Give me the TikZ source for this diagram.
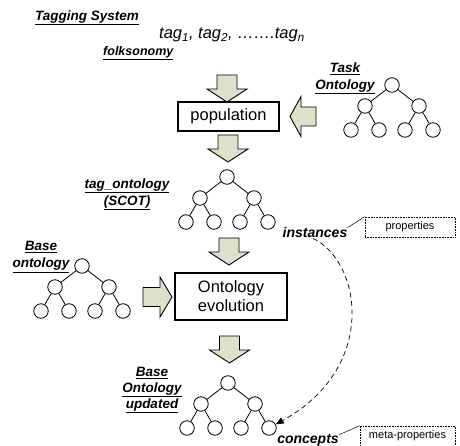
\documentclass[tikz,border=0pt]{standalone}
\usepackage{fontspec}
\setmainfont{Liberation Sans}
\usetikzlibrary{arrows.meta}
\definecolor{arrowfill}{RGB}{221,225,204}
\begin{document}
\begin{tikzpicture}[x=1pt,y=-1pt,
  lbl/.style={font=\fontsize{13.5}{17}\selectfont\bfseries\itshape, align=center, inner sep=0pt},
  leaf/.style={circle, draw=black, line width=0.8pt, minimum size=14.5pt, inner sep=0pt, fill=white},
  edge/.style={draw=black, line width=0.8pt},
  procbox/.style={draw=black, line width=2.4pt, align=center, inner sep=0pt,
    font=\fontsize{16.5}{19}\selectfont},
  blk/.style={draw=black, fill=arrowfill, line width=0.9pt, line join=miter},
  notebox/.style={draw=black, densely dotted, line width=0.6pt, inner sep=0pt,
    font=\fontsize{11}{13}\selectfont},
  role/.style={font=\fontsize{14}{16}\selectfont\bfseries\itshape, inner sep=1pt},
  pics/onto/.style={code={
    \node[leaf] (-r)  at (0,0)    {};
    \node[leaf] (-a)  at (-27,21) {};
    \node[leaf] (-b)  at (27,21)  {};
    \node[leaf] (-a1) at (-41,45) {};
    \node[leaf] (-a2) at (-13,45) {};
    \node[leaf] (-b1) at (13,45)  {};
    \node[leaf] (-b2) at (41,45)  {};
    \draw[edge] (-r) -- (-a);
    \draw[edge] (-r) -- (-b);
    \draw[edge] (-a) -- (-a1);
    \draw[edge] (-a) -- (-a2);
    \draw[edge] (-b) -- (-b1);
    \draw[edge] (-b) -- (-b2);
  }},
  pics/downblk/.style={code={
    \draw[blk] (-10,0) -- (10,0) -- (10,14) -- (20,14) -- (0,27)
      -- (-20,14) -- (-10,14) -- cycle;
  }},
  pics/leftblk/.style={code={
    \draw[blk] (0,0) -- (11,-20) -- (11,-9.5) -- (26,-9.5) -- (26,9.5)
      -- (11,9.5) -- (11,20) -- cycle;
  }},
  pics/rightblk/.style={code={
    \draw[blk] (0,0) -- (-12,-20) -- (-12,-9.5) -- (-29,-9.5) -- (-29,9.5)
      -- (-12,9.5) -- (-12,20) -- cycle;
  }}
]
\useasboundingbox (0,0) rectangle (460,446);

% header: tagging system and its tags
\node[lbl, anchor=west] (tsys) at (35,18) {\underline{Tagging System}};
\node[anchor=west, inner sep=0pt, font=\fontsize{16.5}{18}\selectfont\itshape] (tags) at (159,35)
  {tag\textsubscript{1}, tag\textsubscript{2}, …….tag\textsubscript{n}};
\node[lbl, anchor=west, font=\fontsize{12.5}{14}\selectfont\bfseries\itshape] (folk) at (103,53) {\underline{folksonomy}};

% population step
\pic at (227,75) {downblk};
\node[procbox, minimum width=101pt, minimum height=29pt] (pop) at (228.5,116.5) {population};
\pic at (290,116.5) {leftblk};

% task ontology
\node[lbl] (task) at (345,78.5) {\underline{Task}\\\underline{Ontology}};
\pic (tk) at (392,85) {onto};

% tag ontology produced by population
\pic at (228,135) {downblk};
\node[lbl] (tagl) at (127,194.5) {\underline{tag\_ontology}\\\underline{(SCOT)}};
\pic (sc) at (227,177) {onto};

% ontology evolution step
\pic at (229,238) {downblk};
\node[procbox, minimum width=112pt, minimum height=47pt] (evo) at (231,296.5) {Ontology\\evolution};

% base ontology
\node[lbl] (basel) at (41,257) {\underline{Base}\\\underline{ontology}};
\pic (bo) at (82,266) {onto};
\pic at (172,297) {rightblk};

% updated base ontology
\pic at (229.5,336) {downblk};
\node[lbl, font=\fontsize{13.5}{16}\selectfont\bfseries\itshape] (updl) at (152,390) {\underline{Base}\\\underline{Ontology}\\\underline{updated}};
\pic (up) at (228,383) {onto};

% instances become concepts
\node[role] (inst) at (315,232) {instances};
\node[notebox, minimum width=90pt, minimum height=20pt] (props) at (410,227) {properties};
\draw[line width=0.5pt] ([xshift=-1pt,yshift=-2pt]inst.north east) -- (props.north west);

\node[role] (conc) at (308,440) {concepts};
\node[notebox, minimum width=95pt, minimum height=20pt] (meta) at (407.5,436) {meta-properties};
\draw[line width=0.5pt] ([xshift=-1pt,yshift=-2pt]conc.north east) -- (meta.north west);

\draw[line width=0.7pt, dash pattern=on 5pt off 3.5pt, -{Triangle[length=8pt,width=6.5pt]}]
  ([xshift=-2pt]inst.south) .. controls (362,262) and (378,368) .. (up-b2);
\end{tikzpicture}
\end{document}
